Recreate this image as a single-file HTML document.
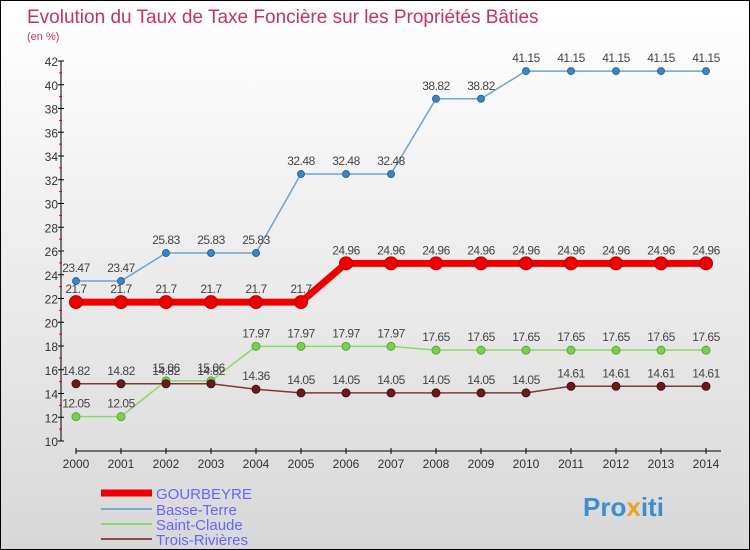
<!DOCTYPE html>
<html><head><meta charset="utf-8"><style>
body{margin:0}
#c{width:748px;height:548px;border:1px solid #000;background:linear-gradient(#fff,#d8d8d8);position:relative;overflow:hidden;font-family:"Liberation Sans",sans-serif}
</style></head><body>
<div id="c">
<svg id="s" width="748" height="548" xmlns="http://www.w3.org/2000/svg">
<text x="26" y="22" font-size="19" fill="#c0355f">Evolution du Taux de Taxe Foncière sur les Propriétés Bâties</text>
<text x="26" y="39" font-size="11" fill="#c0355f">(en %)</text>
<g id="axes"></g><g id="series"></g>
<g>
<line x1="100" y1="492" x2="151" y2="492" stroke="#e00" stroke-width="7"/>
<text x="155" y="498" font-size="15" fill="#66f">GOURBEYRE</text>
<line x1="100" y1="508" x2="151" y2="508" stroke="#7aa9cf" stroke-width="2"/>
<text x="155" y="514" font-size="15" fill="#66f">Basse-Terre</text>
<line x1="100" y1="523" x2="151" y2="523" stroke="#8ed86a" stroke-width="2"/>
<text x="155" y="529" font-size="15" fill="#66f">Saint-Claude</text>
<line x1="100" y1="538" x2="151" y2="538" stroke="#8a4a4a" stroke-width="2"/>
<text x="155" y="544" font-size="15" fill="#66f">Trois-Rivières</text>
</g>
<text x="582" y="515" font-size="26" font-weight="bold" fill="#3a8fd0">Pro<tspan fill="#f0a020">x</tspan>iti</text>
</svg></div>
<script>
const years=[2000,2001,2002,2003,2004,2005,2006,2007,2008,2009,2010,2011,2012,2013,2014];
const gourbeyre=[21.7,21.7,21.7,21.7,21.7,21.7,24.96,24.96,24.96,24.96,24.96,24.96,24.96,24.96,24.96];
const basseTerre=[23.47,23.47,25.83,25.83,25.83,32.48,32.48,32.48,38.82,38.82,41.15,41.15,41.15,41.15,41.15];
const saintClaude=[12.05,12.05,15.06,15.06,17.97,17.97,17.97,17.97,17.65,17.65,17.65,17.65,17.65,17.65,17.65];
const troisRivieres=[14.82,14.82,14.82,14.82,14.36,14.05,14.05,14.05,14.05,14.05,14.05,14.61,14.61,14.61,14.61];
const yTicks=[10,12,14,16,18,20,22,24,26,28,30,32,34,36,38,40,42];
const NS="http://www.w3.org/2000/svg";
const X=i=>75+i*45, Y=v=>440-(v-10)*380/32;
function mk(t,a,p){const e=document.createElementNS(NS,t);for(const k in a)e.setAttribute(k,a[k]);p.appendChild(e);return e;}
const ax=document.getElementById('axes'), sg=document.getElementById('series');
let l=mk('line',{x1:60,y1:60,x2:60,y2:440,stroke:'#000'},ax);


l=mk('line',{x1:75,y1:450,x2:720,y2:450,stroke:'#000'},ax);


yTicks.forEach(v=>{mk('line',{x1:57,y1:Y(v),x2:63,y2:Y(v),stroke:'#000'},ax);
 if(v<42)mk('line',{x1:58,y1:Y(v+1),x2:61,y2:Y(v+1),stroke:'#e00'},ax);
 const t=mk('text',{x:57,y:Y(v)+5,'font-size':12,fill:'#333','text-anchor':'end'},ax);t.textContent=v;
 
 });
years.forEach((y,i)=>{mk('line',{x1:X(i),y1:447,x2:X(i),y2:453,stroke:'#000'},ax);
 const t=mk('text',{x:X(i),y:467,'font-size':12,fill:'#333','text-anchor':'middle'},ax);t.textContent=y;
 
 });
function series(vals,name,col,w,r,fill,stroke){
 const g=mk('g',{},sg);
 
 
 mk('polyline',{points:vals.map((v,i)=>X(i)+','+Y(v)).join(' '),fill:'none',stroke:col,'stroke-width':w},g);
 vals.forEach((v,i)=>{const c=mk('circle',{cx:X(i),cy:Y(v),r:r,fill:fill,stroke:stroke,'stroke-width':1},g);
  
  
  const t=mk('text',{x:X(i),y:Y(v)-9,'font-size':12,fill:'#444','text-anchor':'middle','letter-spacing':'-0.5'},g);t.textContent=v;
  
  });
}
series(basseTerre,'basse-terre','#6fa3cf',1.5,3.5,'#3a85c4','#2a6a9c');
series(saintClaude,'saint-claude','#8ed86a',1.5,4,'#7ccf4e','#5aa83a');
series(troisRivieres,'trois-rivieres','#7a3a3a',1.5,4,'#6a1a1a','#4a1010');
series(gourbeyre,'gourbeyre','#e00',7,6.5,'#e00','#b00');
</script>
</body></html>
